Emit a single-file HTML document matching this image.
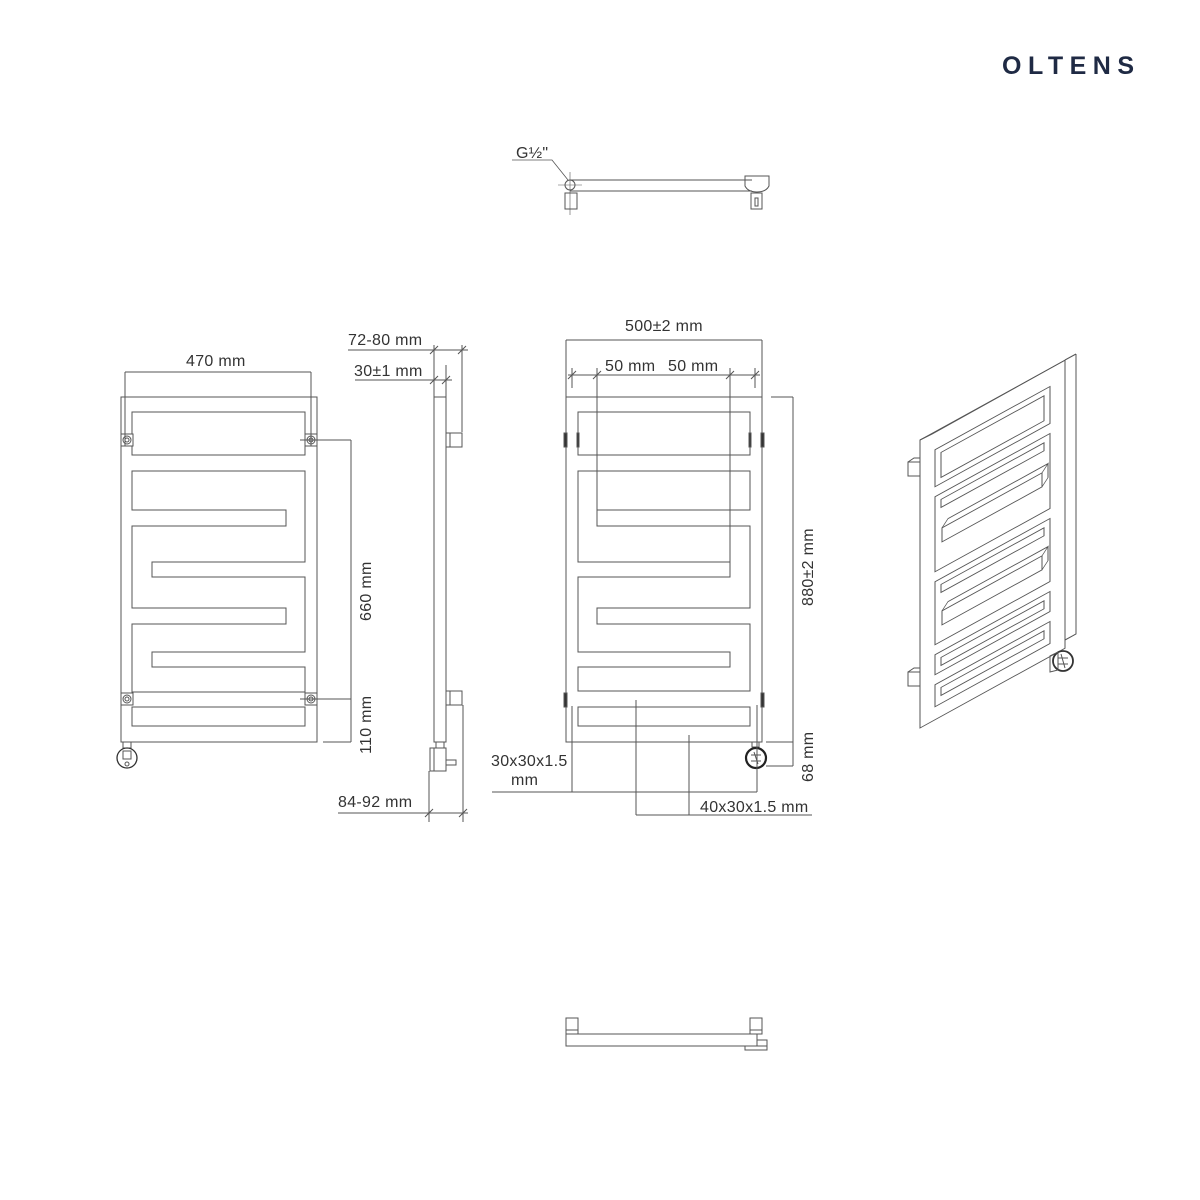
<!DOCTYPE html>
<html><head><meta charset="utf-8"><style>
html,body{margin:0;padding:0;background:#fff}
svg{display:block}
text{font-family:"Liberation Sans",sans-serif;fill:#333;font-size:16px;letter-spacing:0.3px}
</style></head><body>
<svg width="1200" height="1200" viewBox="0 0 1200 1200" xmlns="http://www.w3.org/2000/svg">
<rect width="1200" height="1200" fill="#fff"/>
<text x="1002" y="74" style="font-size:25px;font-weight:bold;fill:#1f2a44;letter-spacing:6.5px">OLTENS</text>

<g fill="none" stroke="#555" stroke-width="1">
<line x1="570" y1="180" x2="752" y2="180"/><line x1="570" y1="191" x2="752" y2="191"/>
<circle cx="570" cy="185" r="5"/>
<line x1="558" y1="185" x2="582" y2="185" stroke-width="0.6"/><line x1="570" y1="172" x2="570" y2="215" stroke-width="0.6"/>
<rect x="565" y="193" width="12" height="16"/>
<path d="M745 176 L769 176 L769 186 Q766 192 757 192 Q748 192 745 186 Z"/>
<rect x="751" y="193" width="11" height="16"/><rect x="755" y="198" width="3" height="8"/>
<path d="M512 160 L552 160 L568 180" stroke-width="0.8"/>

<rect x="121" y="397" width="196" height="345"/>
<rect x="132" y="412" width="173" height="43"/>
<path d="M132 471 L305 471 L305 562 L152 562 L152 577 L305 577 L305 652 L152 652 L152 667 L305 667 L305 692 L132 692 L132 624 L286 624 L286 608 L132 608 L132 526 L286 526 L286 510 L132 510 Z"/>
<rect x="132" y="707" width="173" height="19"/>
<rect x="121" y="434" width="12" height="12" fill="#fff"/><circle cx="127" cy="440" r="4"/><circle cx="127" cy="440" r="2"/>
<rect x="305" y="434" width="12" height="12" fill="#fff"/><circle cx="311" cy="440" r="4"/><circle cx="311" cy="440" r="2"/>
<rect x="121" y="693" width="12" height="12" fill="#fff"/><circle cx="127" cy="699" r="4"/><circle cx="127" cy="699" r="2"/>
<rect x="305" y="693" width="12" height="12" fill="#fff"/><circle cx="311" cy="699" r="4"/><circle cx="311" cy="699" r="2"/>
<rect x="123" y="742" width="8" height="6"/>
<circle cx="127" cy="758" r="10" stroke="#333" stroke-width="1.3"/><rect x="123" y="751" width="8" height="8"/><circle cx="127" cy="764" r="2"/>
<line x1="125" y1="372" x2="311" y2="372"/>
<line x1="125" y1="372" x2="125" y2="446"/><line x1="311" y1="372" x2="311" y2="446"/>
<line x1="300" y1="440" x2="351" y2="440"/><line x1="300" y1="699" x2="351" y2="699"/><line x1="323" y1="742" x2="351" y2="742"/>
<line x1="351" y1="440" x2="351" y2="742"/>

<rect x="434" y="397" width="12" height="345"/>
<rect x="446" y="433" width="16" height="14"/><line x1="450" y1="433" x2="450" y2="447"/>
<rect x="446" y="691" width="16" height="14"/><line x1="450" y1="691" x2="450" y2="705"/>
<rect x="436" y="742" width="8" height="6"/>
<rect x="430" y="748" width="16" height="23"/><line x1="434" y1="748" x2="434" y2="771"/>
<rect x="446" y="760" width="10" height="5"/>
<line x1="348" y1="350" x2="468" y2="350"/><line x1="355" y1="380" x2="452" y2="380"/>
<line x1="434" y1="345" x2="434" y2="397"/><line x1="446" y1="365" x2="446" y2="397"/>
<line x1="462" y1="345" x2="462" y2="432"/>
<path d="M430 354 L438 346 M458 354 L466 346 M430 384 L438 376 M442 384 L450 376 M425 817 L433 809 M459 817 L467 809"/>
<line x1="338" y1="813" x2="468" y2="813"/>
<line x1="429" y1="771" x2="429" y2="822"/><line x1="463" y1="705" x2="463" y2="822"/>

<rect x="566" y="397" width="196" height="345"/>
<rect x="578" y="412" width="172" height="43"/>
<path d="M578 471 L750 471 L750 510 L597 510 L597 526 L750 526 L750 608 L597 608 L597 624 L750 624 L750 691 L578 691 L578 667 L730 667 L730 652 L578 652 L578 577 L730 577 L730 562 L578 562 Z"/>
<rect x="578" y="707" width="172" height="19"/>
<rect x="564" y="433" width="3" height="14" fill="#333"/><rect x="761" y="433" width="3" height="14" fill="#333"/>
<rect x="577" y="433" width="2" height="14" fill="#333"/><rect x="749" y="433" width="2" height="14" fill="#333"/>
<rect x="564" y="693" width="3" height="14" fill="#333"/><rect x="761" y="693" width="3" height="14" fill="#333"/>
<rect x="752" y="742" width="7" height="5"/>
<circle cx="756" cy="758" r="10" stroke="#222" stroke-width="2.2"/>
<path d="M751 755 L761 755 M751 761 L761 761 M754 752 L758 764" stroke-width="1"/>
<line x1="566" y1="340" x2="762" y2="340"/>
<line x1="566" y1="340" x2="566" y2="397"/><line x1="762" y1="340" x2="762" y2="397"/>
<line x1="568" y1="375" x2="760" y2="375"/>
<line x1="572" y1="368" x2="572" y2="388"/><line x1="755" y1="368" x2="755" y2="388"/>
<line x1="597" y1="368" x2="597" y2="510"/><line x1="730" y1="368" x2="730" y2="562"/>
<path d="M568 379 L576 371 M593 379 L601 371 M726 379 L734 371 M751 379 L759 371"/>
<line x1="771" y1="397" x2="793" y2="397"/><line x1="793" y1="397" x2="793" y2="766"/>
<line x1="766" y1="742" x2="793" y2="742"/><line x1="766" y1="766" x2="793" y2="766"/>
<line x1="492" y1="792" x2="757" y2="792"/>
<line x1="572" y1="706" x2="572" y2="792"/><line x1="757" y1="705" x2="757" y2="792"/>
<line x1="636" y1="700" x2="636" y2="815"/><line x1="689" y1="735" x2="689" y2="815"/>
<line x1="636" y1="815" x2="812" y2="815"/>

<rect x="566" y="1034" width="191" height="12"/>
<rect x="566" y="1018" width="12" height="16"/><line x1="566" y1="1030" x2="578" y2="1030"/>
<rect x="750" y="1018" width="12" height="16"/><line x1="750" y1="1030" x2="762" y2="1030"/>
<path d="M745 1046 L767 1046 L767 1050 L745 1050 Z M757 1040 L767 1040 L767 1046"/>

<g transform="matrix(1,-0.55,0,1,920,440)">
<rect x="0" y="0" width="145" height="288"/>
<rect x="15" y="18" width="115" height="37"/>
<rect x="15" y="65" width="115" height="75"/>
<rect x="15" y="150" width="115" height="63"/>
<rect x="15" y="223" width="115" height="20"/>
<rect x="15" y="253" width="115" height="22"/>
<rect x="21" y="24" width="103" height="25"/>
<rect x="21" y="71" width="103" height="8"/>
<rect x="21" y="156" width="103" height="8"/>
<rect x="21" y="229" width="103" height="8"/>
<rect x="21" y="259" width="103" height="8"/>
<rect x="22" y="100" width="100" height="14"/><path d="M22 100 L28 94 L128 94 L122 100 M128 94 L128 108 L122 114"/>
<rect x="22" y="183" width="100" height="14"/><path d="M22 183 L28 177 L128 177 L122 183 M128 177 L128 191 L122 197"/>
</g>
<path d="M920 440 L932 434 L1076 354 L1065 360 M1076 354 L1076 634 L1065 640"/>
<rect x="908" y="462" width="12" height="14"/><path d="M908 462 L914 458 L920 458"/>
<rect x="908" y="672" width="12" height="14"/><path d="M908 672 L914 668 L920 668"/>
<circle cx="1063" cy="661" r="10" stroke="#333" stroke-width="1.8"/>
<path d="M1050 656 L1058 652 L1058 670 L1050 672 Z"/>
<path d="M1058 658 L1068 658 M1058 664 L1068 664 M1061 654 L1065 668"/>
</g>

<text x="186" y="366">470 mm</text>
<text transform="translate(371,621) rotate(-90)">660 mm</text>
<text transform="translate(371,754) rotate(-90)">110 mm</text>
<text x="348" y="345">72-80 mm</text>
<text x="354" y="376">30±1 mm</text>
<text x="338" y="807">84-92 mm</text>
<text x="625" y="331">500±2 mm</text>
<text x="605" y="371">50 mm</text>
<text x="668" y="371">50 mm</text>
<text transform="translate(813,606) rotate(-90)">880±2 mm</text>
<text transform="translate(813,782) rotate(-90)">68 mm</text>
<text x="491" y="766">30x30x1.5</text>
<text x="511" y="785">mm</text>
<text x="700" y="812">40x30x1.5 mm</text>
<text x="516" y="158">G½"</text>
</svg>
</body></html>
